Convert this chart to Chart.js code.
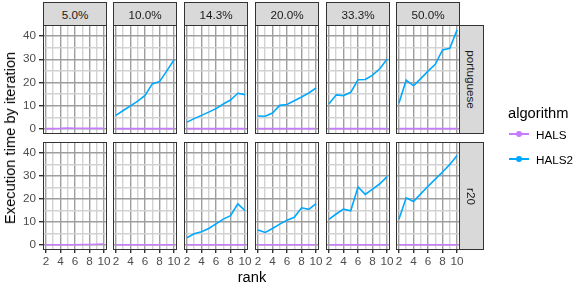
<!DOCTYPE html>
<html>
<head>
<meta charset="utf-8">
<script src="https://cdn.jsdelivr.net/npm/chart.js@4/dist/chart.umd.min.js"></script>
<style>
  body { margin: 0; background: #fff; font-family: "Liberation Sans", Arial, sans-serif; }
  #wrap { position: relative; width: 576px; height: 286px; overflow: hidden; }
  canvas { position: absolute; }
  .strip { position: absolute; background: #d9d9d9; border: 1px solid #333; box-sizing: border-box;
           color: #1a1a1a; font-size: 11.7px; display: flex; align-items: center; justify-content: center; }
  .vtext { transform: rotate(90deg); white-space: nowrap; }
  .title { position: absolute; font-size: 14.7px; color: #000; white-space: nowrap; }
  .key { position: absolute; height: 2px; width: 20px; }
  .dot { position: absolute; width: 6px; height: 6px; border-radius: 3px; left: 7px; top: -2px; }
  .klabel { position: absolute; font-size: 11.7px; color: #000; }
</style>
</head>
<body>
<div id="wrap"></div>
<script>
// facets
const densities = ['5.0%', '10.0%', '14.3%', '20.0%', '33.3%', '50.0%'];
const corpora = ['portuguese', 'r20'];
const ranks = [2, 3, 4, 5, 6, 7, 8, 9, 10];
const yTicks = [0, 5, 10, 15, 20, 25, 30, 35, 40];

// execution time by iteration, one row per density
const halsPortuguese = [
  [0.2, 0.2, 0.3, 0.5, 0.4, 0.4, 0.3, 0.3, 0.3],
  [0.2, 0.2, 0.2, 0.2, 0.2, 0.2, 0.2, 0.2, 0.2],
  [0.2, 0.2, 0.2, 0.2, 0.2, 0.2, 0.2, 0.2, 0.2],
  [0.2, 0.2, 0.2, 0.2, 0.2, 0.2, 0.2, 0.2, 0.2],
  [0.2, 0.2, 0.2, 0.2, 0.2, 0.2, 0.2, 0.2, 0.2],
  [0.2, 0.2, 0.2, 0.2, 0.2, 0.2, 0.2, 0.2, 0.2]
];
const hals2Portuguese = [
  [],
  [5.9, 8.0, 10.0, 12.0, 14.5, 19.4, 20.4, 25.0, 29.8],
  [3.0, 4.5, 5.9, 7.3, 8.8, 10.8, 12.5, 15.4, 14.8],
  [5.6, 5.5, 6.9, 10.2, 10.6, 12.2, 13.8, 15.5, 17.7],
  [10.8, 14.7, 14.4, 15.8, 21.2, 21.3, 23.2, 25.9, 30.1],
  [11.1, 21.0, 18.6, 21.7, 24.9, 27.8, 34.0, 34.7, 42.6]
];
const halsR20 = [
  [0.2, 0.2, 0.2, 0.2, 0.2, 0.3, 0.3, 0.4, 0.5],
  [0.2, 0.2, 0.2, 0.2, 0.2, 0.2, 0.2, 0.2, 0.2],
  [0.2, 0.2, 0.2, 0.2, 0.2, 0.2, 0.2, 0.2, 0.2],
  [0.2, 0.2, 0.2, 0.2, 0.2, 0.2, 0.2, 0.2, 0.2],
  [0.2, 0.2, 0.2, 0.2, 0.2, 0.2, 0.2, 0.2, 0.2],
  [0.2, 0.2, 0.2, 0.2, 0.2, 0.2, 0.2, 0.2, 0.2]
];
const hals2R20 = [
  [],
  [],
  [3.2, 4.9, 5.8, 7.2, 9.2, 11.3, 12.8, 17.9, 14.9],
  [6.6, 5.5, 7.2, 9.1, 10.8, 12.1, 16.2, 15.5, 18.0],
  [11.2, 13.5, 15.6, 14.9, 25.2, 22.0, 24.3, 26.6, 29.7],
  [11.2, 20.5, 18.9, 22.2, 25.5, 28.6, 31.7, 35.0, 38.9]
];

const halsColor = '#C77CFF';
const hals2Color = '#00A9FF';

// layout of the facet grid
const panelLeft = [43, 113, 184, 255, 326, 396];
const panelW = 64;
const rowTop = [25, 142];
const rowH = [109, 108];
const wrap = document.getElementById('wrap');

// panel frame
const framePlugin = {
  id: 'frame',
  afterDraw(chart) {
    const a = chart.chartArea, ctx = chart.ctx;
    ctx.save();
    ctx.strokeStyle = '#333333';
    ctx.lineWidth = 1;
    ctx.strokeRect(a.left + 0.5, a.top + 0.5, a.right - a.left - 1, a.bottom - a.top - 1);
    ctx.restore();
  }
};

function toPoints(vals) {
  return vals.map((v, i) => ({ x: ranks[i], y: v }));
}

function noPad(s) {
  s.paddingTop = 0; s.paddingBottom = 0; s.paddingLeft = 0; s.paddingRight = 0;
}

function makePanel(row, col) {
  const isLeft = col === 0, isBottom = row === 1;
  const padL = isLeft ? 43 : 0, padB = isBottom ? 24 : 0;
  // room so the x tick labels at the panel edges are not cut off
  const extraL = (isBottom && !isLeft) ? 5 : 0, extraR = isBottom ? 6 : 0;
  const cv = document.createElement('canvas');
  cv.width = panelW + padL + extraL + extraR; cv.height = rowH[row] + padB;
  cv.style.left = (panelLeft[col] - padL - extraL) + 'px';
  cv.style.top = rowTop[row] + 'px';
  cv.style.width = cv.width + 'px'; cv.style.height = cv.height + 'px';
  wrap.appendChild(cv);

  const hals = row === 0 ? halsPortuguese[col] : halsR20[col];
  const hals2 = row === 0 ? hals2Portuguese[col] : hals2R20[col];

  new Chart(cv, {
    type: 'line',
    data: {
      datasets: [
        { label: 'HALS', data: toPoints(hals), borderColor: halsColor, borderWidth: 1.6, pointRadius: 0, tension: 0 },
        { label: 'HALS2', data: toPoints(hals2), borderColor: hals2Color, borderWidth: 1.6, pointRadius: 0, tension: 0 }
      ]
    },
    options: {
      responsive: false,
      animation: false,
      events: [],
      layout: { padding: { left: extraL, right: extraR, top: 0, bottom: 0 } },
      plugins: { legend: { display: false }, tooltip: { enabled: false } },
      scales: {
        x: {
          type: 'linear', min: 1.6, max: 10.4,
          afterBuildTicks: s => { s.ticks = ranks.map(v => ({ value: v })); },
          afterFit: s => { s.height = padB; noPad(s); },
          border: { display: false },
          grid: {
            color: c => (c.tick && c.tick.value % 2 === 0) ? '#9e9e9e' : '#d2d2d2',
            lineWidth: 1.4,
            drawTicks: isBottom, tickLength: 3,
            tickColor: c => (c.tick && c.tick.value % 2 === 0) ? '#333333' : 'rgba(0,0,0,0)'
          },
          ticks: {
            display: isBottom, padding: 2, color: '#4d4d4d', maxRotation: 0, autoSkip: false,
            font: { family: 'Liberation Sans', size: 11.7 },
            callback: v => (v % 2 === 0 ? String(v) : '')
          }
        },
        y: {
          type: 'linear', min: -2.1, max: 44.7,
          afterBuildTicks: s => { s.ticks = yTicks.map(v => ({ value: v })); },
          afterFit: s => { s.width = padL; noPad(s); },
          border: { display: false },
          grid: {
            color: c => (c.tick && c.tick.value % 10 === 0) ? '#9e9e9e' : '#d2d2d2',
            lineWidth: 1.4,
            drawTicks: isLeft, tickLength: 4,
            tickColor: c => (c.tick && c.tick.value % 10 === 0) ? '#333333' : 'rgba(0,0,0,0)'
          },
          ticks: {
            display: isLeft, padding: 3, color: '#4d4d4d', autoSkip: false,
            font: { family: 'Liberation Sans', size: 11.7 },
            callback: v => (v % 10 === 0 ? String(v) : '')
          }
        }
      }
    },
    plugins: [framePlugin]
  });
}

for (let r = 0; r < corpora.length; r++) {
  for (let c = 0; c < densities.length; c++) makePanel(r, c);
}

// strips
densities.forEach((d, c) => {
  const s = document.createElement('div');
  s.className = 'strip';
  s.style.left = panelLeft[c] + 'px'; s.style.top = '2px';
  s.style.width = panelW + 'px'; s.style.height = '24px';
  s.textContent = d;
  wrap.appendChild(s);
});
corpora.forEach((name, r) => {
  const s = document.createElement('div');
  s.className = 'strip';
  s.style.left = '459px'; s.style.top = rowTop[r] + 'px';
  s.style.width = '25px'; s.style.height = rowH[r] + 'px';
  s.innerHTML = '<span class="vtext">' + name + '</span>';
  wrap.appendChild(s);
});

// axis titles
const yt = document.createElement('div');
yt.className = 'title';
yt.textContent = 'Execution time by iteration';
yt.style.left = '10px'; yt.style.top = '138px';
yt.style.transform = 'translate(-50%,-50%) rotate(-90deg)';
wrap.appendChild(yt);

const xt = document.createElement('div');
xt.className = 'title';
xt.textContent = 'rank';
xt.style.left = '252px'; xt.style.top = '277px';
xt.style.transform = 'translate(-50%,-50%)';
wrap.appendChild(xt);

// legend
const lt = document.createElement('div');
lt.className = 'title';
lt.textContent = 'algorithm';
lt.style.left = '508px'; lt.style.top = '113px';
lt.style.transform = 'translateY(-50%)';
wrap.appendChild(lt);

[['HALS', halsColor, 134], ['HALS2', hals2Color, 159]].forEach(([name, col, y]) => {
  const k = document.createElement('div');
  k.className = 'key';
  k.style.left = '509px'; k.style.top = (y - 1) + 'px'; k.style.background = col;
  k.innerHTML = '<div class="dot" style="background:' + col + '"></div>';
  wrap.appendChild(k);
  const t = document.createElement('div');
  t.className = 'klabel';
  t.textContent = name;
  t.style.left = '536px'; t.style.top = y + 'px';
  t.style.transform = 'translateY(-50%)';
  wrap.appendChild(t);
});
</script>
</body>
</html>
